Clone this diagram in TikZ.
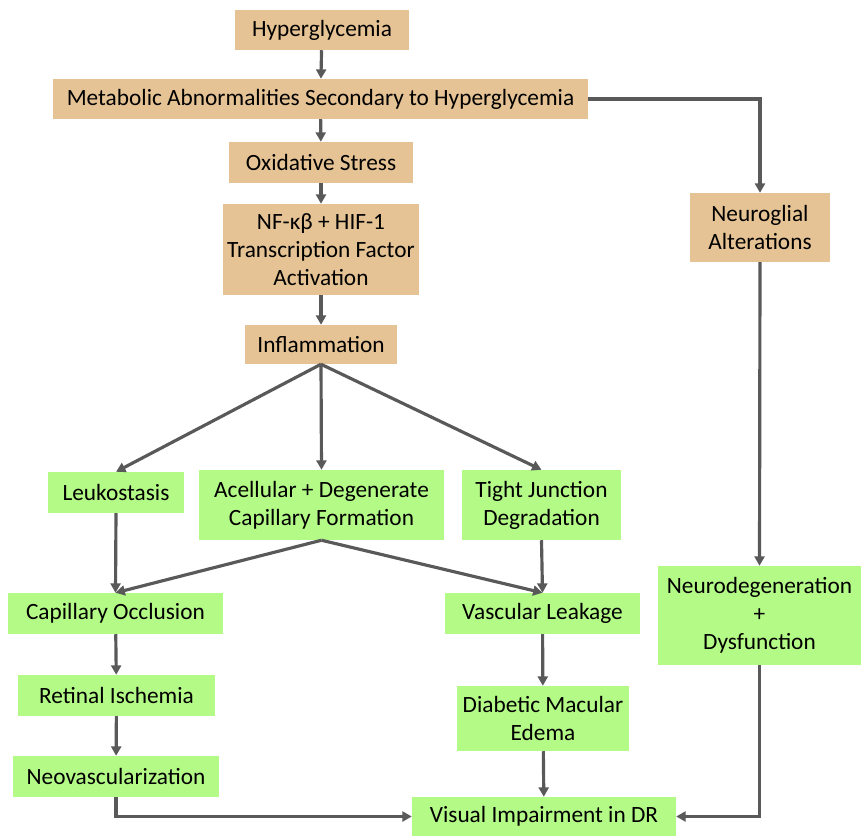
\documentclass[tikz,border=0pt]{standalone}
\usepackage{fontspec}
\setmainfont{Carlito}
\usetikzlibrary{arrows.meta}

\definecolor{tanbox}{RGB}{230,195,148}
\definecolor{greenbox}{RGB}{180,250,135}
\definecolor{linegray}{RGB}{89,89,89}

\tikzset{
  tanstep/.style={fill=tanbox, inner sep=0pt, align=center, font=\fontsize{19.9}{23.8}\selectfont},
  greenstep/.style={fill=greenbox, inner sep=0pt, align=center, font=\fontsize{19.9}{23.8}\selectfont},
  flow/.style={draw=linegray, line width=2.7pt, -{Triangle[length=8pt,width=8.5pt]}}
}

\begin{document}
\begin{tikzpicture}[x=0.03cm,y=-0.03cm]
\useasboundingbox (0,0) rectangle (862,836);

% upper chain
\node[tanstep, minimum width=174*0.03cm, minimum height=40*0.03cm] (hyper) at (322,30) {Hyperglycemia};
\node[tanstep, minimum width=535*0.03cm, minimum height=40*0.03cm] (meta) at (320.5,99) {Metabolic Abnormalities Secondary to Hyperglycemia};
\node[tanstep, minimum width=184*0.03cm, minimum height=41*0.03cm] (oxid) at (321,162.5) {Oxidative Stress};
\node[tanstep, minimum width=196*0.03cm, minimum height=91*0.03cm] (nfkb) at (321,249.5) {NF-κβ + HIF-1\\Transcription Factor\\Activation};
\node[tanstep, minimum width=152*0.03cm, minimum height=39*0.03cm] (infl) at (321,344.5) {Inflammation};
\node[tanstep, minimum width=140*0.03cm, minimum height=69*0.03cm] (neurog) at (760,227.5) {Neuroglial\\Alterations};

% lower boxes
\node[greenstep, minimum width=136*0.03cm, minimum height=41*0.03cm] (leuko) at (116,492.5) {Leukostasis};
\node[greenstep, minimum width=245*0.03cm, minimum height=70*0.03cm] (acell) at (321.5,505) {Acellular + Degenerate\\Capillary Formation};
\node[greenstep, minimum width=159*0.03cm, minimum height=70*0.03cm] (tight) at (541.5,505) {Tight Junction\\Degradation};
\node[greenstep, minimum width=215*0.03cm, minimum height=41*0.03cm] (capocc) at (115.5,613.5) {Capillary Occlusion};
\node[greenstep, minimum width=195*0.03cm, minimum height=41*0.03cm] (vasc) at (542.5,613.5) {Vascular Leakage};
\node[greenstep, minimum width=203*0.03cm, minimum height=99*0.03cm] (neurod) at (759.5,615.5) {Neurodegeneration\\+\\Dysfunction};
\node[greenstep, minimum width=197*0.03cm, minimum height=41*0.03cm] (retis) at (116.5,695.5) {Retinal Ischemia};
\node[greenstep, minimum width=172*0.03cm, minimum height=65*0.03cm] (dme) at (543,718.5) {Diabetic Macular\\Edema};
\node[greenstep, minimum width=206*0.03cm, minimum height=41*0.03cm] (neov) at (116,776.5) {Neovascularization};
\node[greenstep, minimum width=264*0.03cm, minimum height=39*0.03cm] (visual) at (544,816.5) {Visual Impairment in DR};

% connectors
\draw[flow] (hyper) -- (meta);
\draw[flow] (meta) -- (oxid);
\draw[flow] (oxid) -- (nfkb);
\draw[flow] (nfkb) -- (infl);
\draw[flow] (meta.east) -| (neurog.north);
\draw[flow] (neurog.south) -- (neurod.north);

\draw[flow] (infl.south) -- (leuko.north);
\draw[flow] (infl.south) -- (acell.north);
\draw[flow] (infl.south) -- (tight.north);

\draw[flow] (leuko.south) -- (capocc.north);
\draw[flow] (acell.south) -- (capocc.north);
\draw[flow] (acell.south) -- (vasc.north);
\draw[flow] (tight.south) -- (vasc.north);

\draw[flow] (capocc) -- (retis);
\draw[flow] (retis) -- (neov);
\draw[flow] (vasc) -- (dme);
\draw[flow] (dme) -- (visual);
\draw[flow] (neov.south) |- (visual.west);
\draw[flow] (neurod.south) |- (visual.east);

\end{tikzpicture}
\end{document}
